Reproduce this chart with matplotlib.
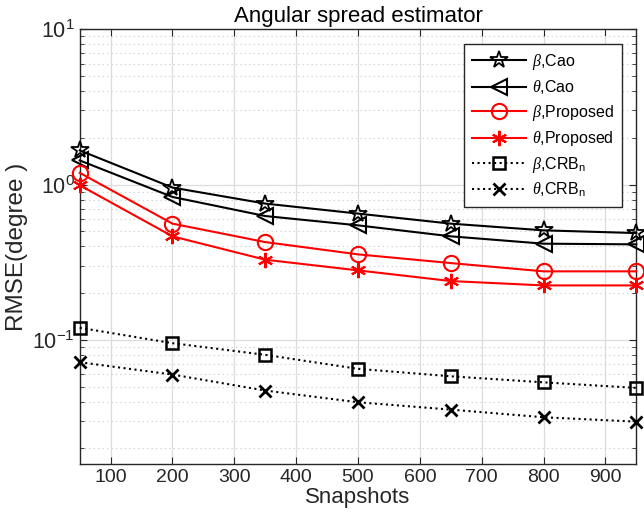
import numpy as np
import matplotlib
matplotlib.use("Agg")
import matplotlib.pyplot as plt
from matplotlib.ticker import LogLocator, NullFormatter, FixedLocator

plt.rcParams['font.family'] = ['Liberation Sans', 'DejaVu Sans']
plt.rcParams['mathtext.fontset'] = 'custom'
plt.rcParams['mathtext.rm'] = 'Liberation Sans'
plt.rcParams['mathtext.it'] = 'Liberation Serif:italic'
plt.rcParams['mathtext.bf'] = 'Liberation Sans:bold'

# data
snapshots = [50, 200, 350, 500, 650, 800, 950]
beta_cao = [1.66, 0.956, 0.754, 0.65, 0.56, 0.507, 0.487]
theta_cao = [1.43, 0.832, 0.627, 0.546, 0.464, 0.416, 0.412]
beta_prop = [1.19, 0.56, 0.426, 0.355, 0.312, 0.276, 0.276]
theta_prop = [0.99, 0.464, 0.328, 0.28, 0.239, 0.224, 0.224]
beta_crb = [0.1195, 0.0951, 0.080, 0.065, 0.0582, 0.0532, 0.049]
theta_crb = [0.0717, 0.0597, 0.0471, 0.0396, 0.0355, 0.0317, 0.0297]

labels = [r'$\beta$,Cao', r'$\theta$,Cao', r'$\beta$,Proposed',
          r'$\theta$,Proposed', r'$\beta$,CRB$_{\mathrm{n}}$',
          r'$\theta$,CRB$_{\mathrm{n}}$']

fig = plt.figure(figsize=(6.44, 5.31), dpi=100)
ax = fig.add_axes([0.1238, 0.1262, 0.988 - 0.1238, 0.9448 - 0.1262])

asterisk = (6, 2, 0)
common = dict(clip_on=False, zorder=3)
ax.plot(snapshots, beta_cao, color='k', lw=1.5, marker='*', ms=13, mfc='none', mew=1.3, label=labels[0], **common)
ax.plot(snapshots, theta_cao, color='k', lw=1.5, marker='<', ms=12, mfc='none', mew=1.5, label=labels[1], **common)
ax.plot(snapshots, beta_prop, color='r', lw=1.5, marker='o', ms=11, mfc='none', mew=1.5, label=labels[2], **common)
ax.plot(snapshots, theta_prop, color='r', lw=1.5, marker=asterisk, ms=11, mew=1.5, label=labels[3], **common)
ax.plot(snapshots, beta_crb, color='k', lw=1.5, ls=':', marker='s', ms=9, mfc='none', mew=1.8, label=labels[4], **common)
ax.plot(snapshots, theta_crb, color='k', lw=1.5, ls=':', marker='x', ms=9, mew=2, label=labels[5], **common)

ax.set_yscale('log')
ax.set_xlim(50, 950)
ax.set_ylim(10 ** -1.8, 10)
ax.xaxis.set_major_locator(FixedLocator(range(100, 1000, 100)))
ax.yaxis.set_major_locator(LogLocator(base=10))
ax.yaxis.set_minor_locator(LogLocator(base=10, subs=np.arange(2, 10)))
ax.yaxis.set_minor_formatter(NullFormatter())

ax.grid(True, which='major', color='#dcdcdc', lw=0.9, ls='-')
ax.grid(True, which='minor', axis='y', color='#c8c8c8', lw=0.8, ls=(0, (1, 3)))
ax.set_axisbelow(True)

ax.tick_params(which='both', direction='in', top=True, right=True, colors='#262626', labelcolor='#262626')
ax.tick_params(which='major', length=5)
ax.tick_params(axis='x', labelsize=14)
ax.tick_params(axis='y', labelsize=15.5)
ax.tick_params(which='minor', length=3)
for s in ax.spines.values():
    s.set_color('#262626')
    s.set_linewidth(1.0)

ax.set_xlabel('Snapshots', fontsize=16, color='#262626', labelpad=1)
ax.set_ylabel('RMSE(degree )', fontsize=17.5, color='#262626', labelpad=3)
ax.set_title('Angular spread estimator', fontsize=16, color='black', pad=5)

leg = ax.legend(loc='upper right', bbox_to_anchor=(0.974, 0.966), borderaxespad=0,
                fontsize=11.5, handlelength=3.4, handletextpad=0.35, labelspacing=0.4,
                borderpad=0.5, fancybox=False, framealpha=1, edgecolor='#262626')
leg.get_frame().set_linewidth(1.0)

fig.savefig('out.png', dpi=100)
